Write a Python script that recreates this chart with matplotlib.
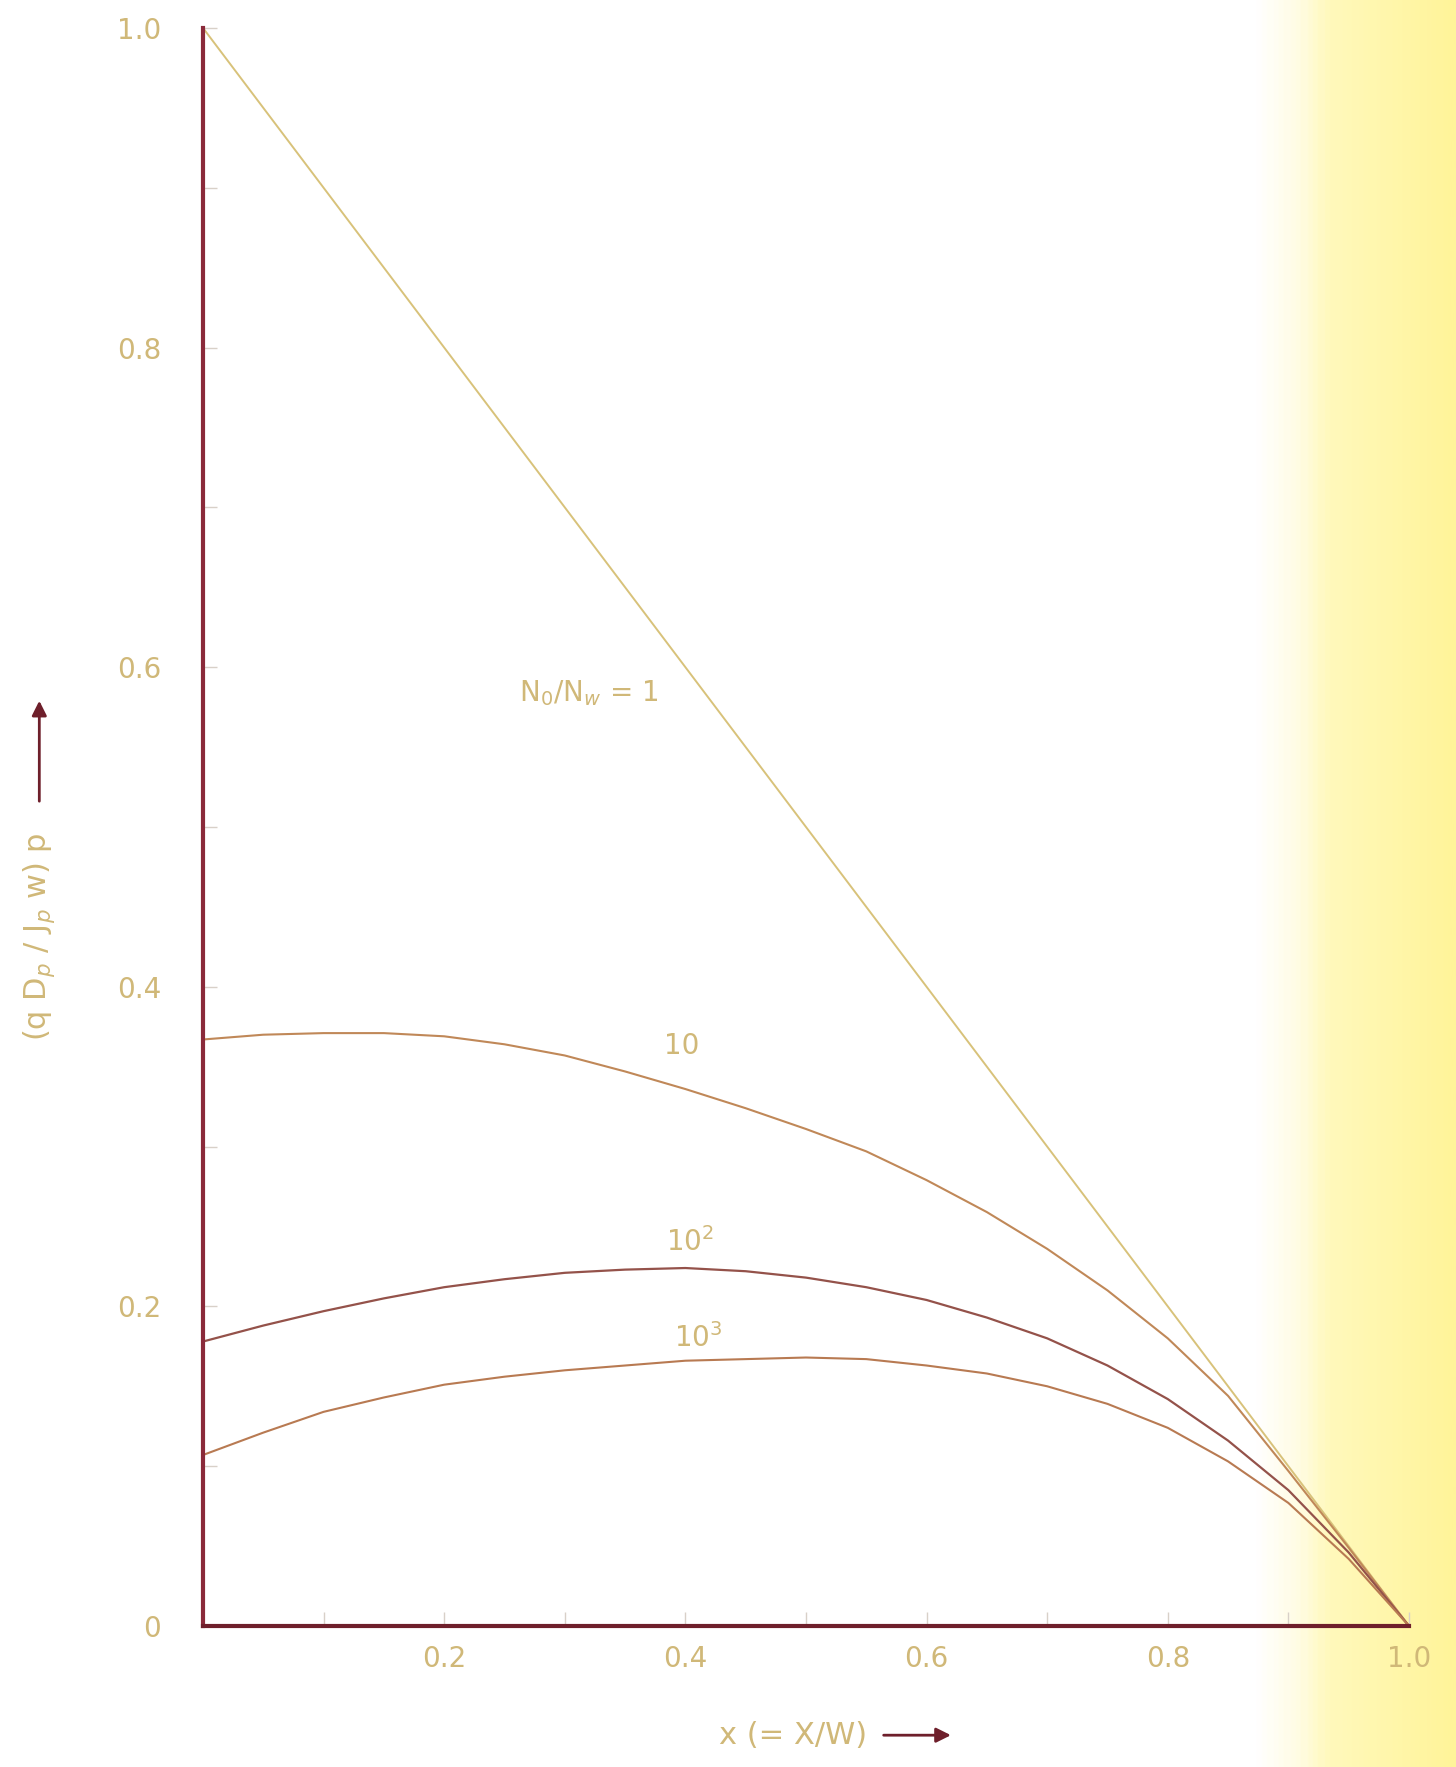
import numpy as np
import matplotlib
matplotlib.use("Agg")
import matplotlib.pyplot as plt
from matplotlib.colors import LinearSegmentedColormap

# normalised distance through the base
x_pos = [0.00, 0.05, 0.10, 0.15, 0.20, 0.25, 0.30, 0.35, 0.40, 0.45, 0.50,
         0.55, 0.60, 0.65, 0.70, 0.75, 0.80, 0.85, 0.90, 0.95, 1.00]

# N0/Nw = 1 (uniform base) -> straight line
x_uniform = [0.0, 1.0]
p_uniform = [1.0, 0.0]

# N0/Nw = 10
p_10 = [0.367, 0.370, 0.371, 0.371, 0.369, 0.364, 0.357, 0.347, 0.336, 0.324, 0.311,
        0.297, 0.279, 0.259, 0.236, 0.210, 0.180, 0.144, 0.097, 0.049, 0.0]
# N0/Nw = 10^2
p_100 = [0.178, 0.188, 0.197, 0.205, 0.212, 0.217, 0.221, 0.223, 0.224, 0.222, 0.218,
         0.212, 0.204, 0.193, 0.180, 0.163, 0.142, 0.116, 0.085, 0.046, 0.0]
# N0/Nw = 10^3
p_1000 = [0.107, 0.121, 0.134, 0.143, 0.151, 0.156, 0.160, 0.163, 0.166, 0.167, 0.168,
          0.167, 0.163, 0.158, 0.150, 0.139, 0.124, 0.103, 0.077, 0.042, 0.0]

xtick_vals = [0.2, 0.4, 0.6, 0.8, 1.0]
xtick_text = ["0.2", "0.4", "0.6", "0.8", "1.0"]
ytick_vals = [0.0, 0.2, 0.4, 0.6, 0.8, 1.0]
ytick_text = ["0", "0.2", "0.4", "0.6", "0.8", "1.0"]

axis_col = "#6e1f2b"
text_col = "#d0b878"

fig = plt.figure(figsize=(14.56, 17.67), dpi=100)

# yellowish paper tint on the right edge of the scan
bg = fig.add_axes([0, 0, 1, 1], zorder=-10)
cmap = LinearSegmentedColormap.from_list(
    "paper", [(0.0, "#ffffff"), (0.865, "#ffffff"), (0.895, "#fffce2"),
              (0.915, "#fff9bc"), (1.0, "#fff49a")])
grad = np.linspace(0, 1, 600).reshape(1, -1)
bg.imshow(grad, aspect="auto", cmap=cmap, extent=[0, 1, 0, 1])
bg.set_axis_off()

ax = fig.add_axes([0.1394, 0.0798, 0.8283, 0.9044])
ax.patch.set_alpha(0)

ax.plot(x_uniform, p_uniform, color="#d8c27a", lw=1.4)
ax.plot(x_pos, p_10, color="#c08858", lw=1.5)
ax.plot(x_pos, p_100, color="#94524a", lw=1.6)
ax.plot(x_pos, p_1000, color="#b87a52", lw=1.5)

ax.set_xlim(0, 1)
ax.set_ylim(0, 1)

for side in ["top", "right"]:
    ax.spines[side].set_visible(False)
for side in ["left", "bottom"]:
    ax.spines[side].set_color(axis_col)
    ax.spines[side].set_linewidth(3)
ax.spines["left"].set_color("#8a2a3a")

ax.set_xticks(xtick_vals)
ax.set_xticklabels(xtick_text)
ax.set_yticks(ytick_vals)
ax.set_yticklabels(ytick_text)
ax.set_xticks(np.arange(0.1, 1.0, 0.2), minor=True)
ax.set_yticks(np.arange(0.1, 1.0, 0.2), minor=True)
ax.tick_params(which="both", direction="in", length=10, width=1,
               color="#d8d0c8", labelsize=20, labelcolor=text_col)
ax.tick_params(axis="x", which="major", pad=14)
ax.tick_params(axis="y", which="major", pad=30)

# curve labels
ax.text(0.262, 0.584, "N$_0$/N$_w$ = 1", fontsize=20, color=text_col,
        ha="left", va="center")
ax.text(0.397, 0.363, "10", fontsize=20, color=text_col, ha="center", va="center")
ax.text(0.404, 0.240, "10$^2$", fontsize=20, color=text_col, ha="center", va="center")
ax.text(0.411, 0.180, "10$^3$", fontsize=20, color=text_col, ha="center", va="center")

# axis titles with arrows, as drawn on the original
fig.text(0.545, 0.018, "x (= X/W)", fontsize=22, color=text_col,
         ha="center", va="center")
fig.add_artist(matplotlib.patches.FancyArrowPatch(
    (0.605, 0.018), (0.655, 0.018), transform=fig.transFigure,
    arrowstyle="-|>", mutation_scale=22, color=axis_col, lw=2))

fig.text(0.027, 0.47, "(q D$_p$ / J$_p$ w) p", fontsize=22, color=text_col,
         rotation=90, ha="center", va="center")
fig.add_artist(matplotlib.patches.FancyArrowPatch(
    (0.027, 0.545), (0.027, 0.605), transform=fig.transFigure,
    arrowstyle="-|>", mutation_scale=22, color=axis_col, lw=2))

fig.savefig("out.png", dpi=100)
